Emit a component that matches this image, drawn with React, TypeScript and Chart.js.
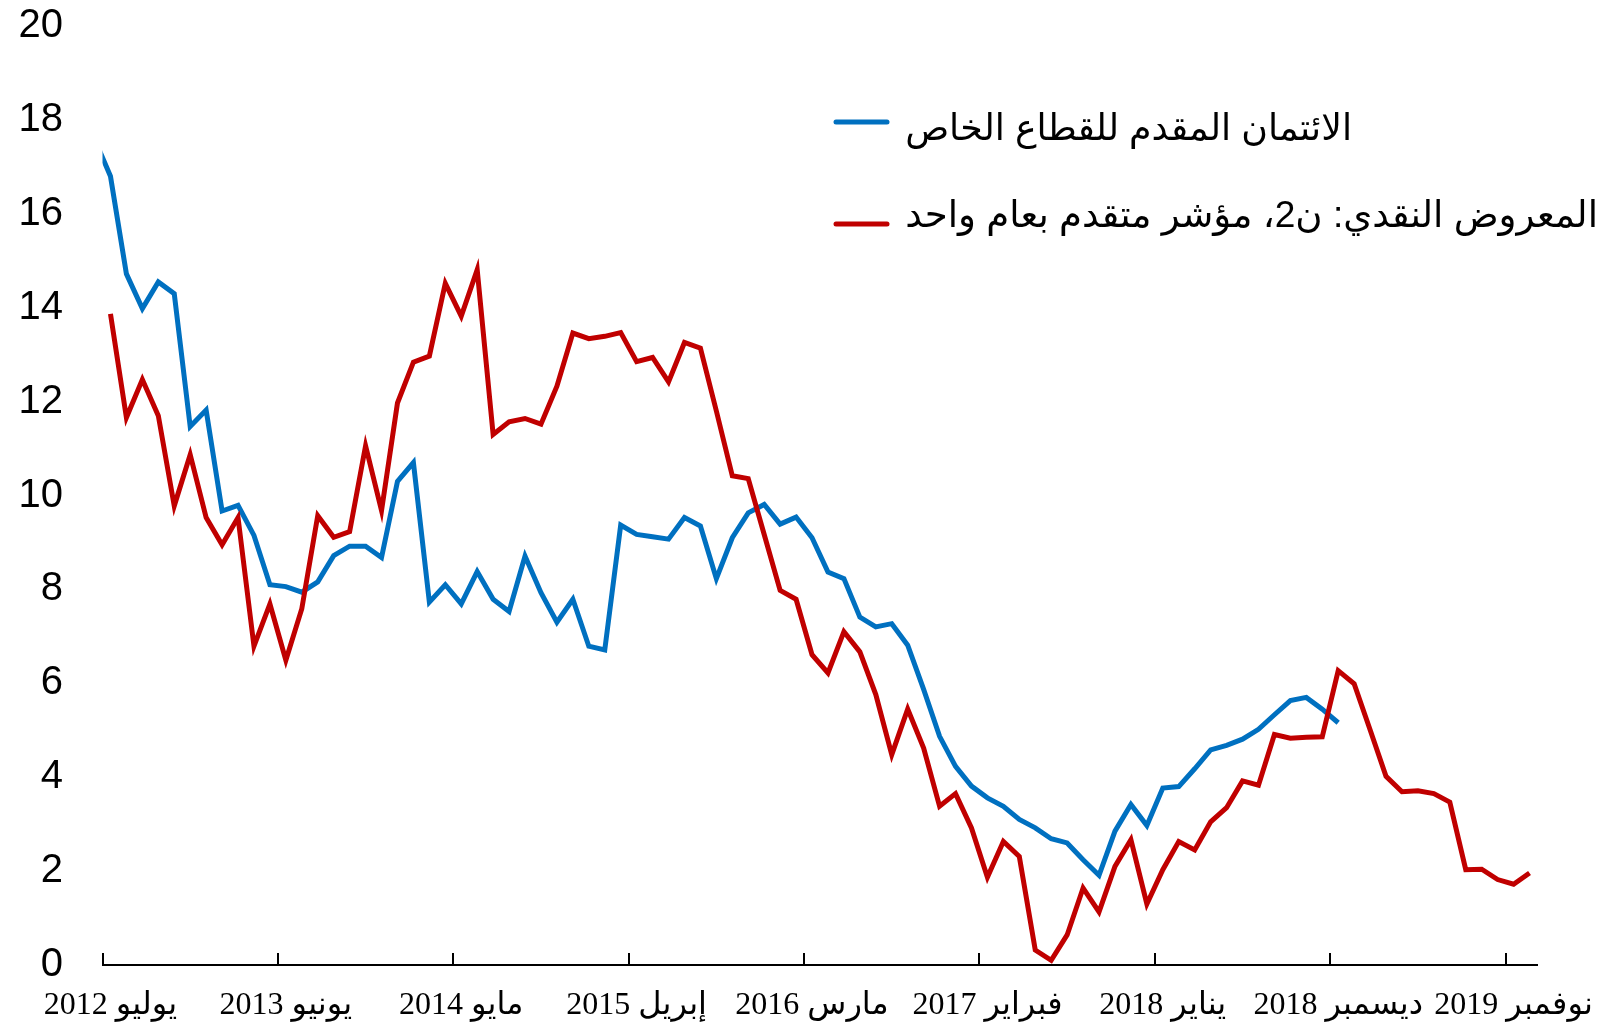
import React, { useEffect, useRef } from 'react';
import { Chart, registerables } from 'chart.js';

Chart.register(...registerables);

// Month index 0 = July 2012 (يوليو 2012), one step per month
const tickMonthIndex = [0, 11, 22, 33, 44, 55, 66, 77, 88];
const tickLabels = [
  'يوليو 2012',
  'يونيو 2013',
  'مايو 2014',
  'إبريل 2015',
  'مارس 2016',
  'فبراير 2017',
  'يناير 2018',
  'ديسمبر 2018',
  'نوفمبر 2019',
];
const yMin = 0;
const yMax = 20;
const yStep = 2;

const creditLabel = 'الائتمان المقدم للقطاع الخاص';
const m2Label = 'المعروض النقدي: ن2، مؤشر متقدم بعام واحد';

// Private-sector credit, starts June 2012 (index -1)
const creditStartIndex = -1;
const creditValues = [
  17.6, 16.8, 14.72, 13.98, 14.55, 14.3, 11.47, 11.82, 9.67, 9.79,
  9.15, 8.1, 8.06, 7.94, 8.16, 8.72, 8.92, 8.92, 8.68, 10.3,
  10.7, 7.73, 8.1, 7.69, 8.38, 7.79, 7.53, 8.71, 7.93, 7.3,
  7.79, 6.79, 6.71, 9.37, 9.17, 9.12, 9.07, 9.53, 9.35, 8.23,
  9.1, 9.63, 9.81, 9.39, 9.54, 9.1, 8.37, 8.23, 7.41, 7.2,
  7.27, 6.81, 5.87, 4.87, 4.23, 3.81, 3.56, 3.38, 3.1, 2.92,
  2.69, 2.6, 2.24, 1.91, 2.85, 3.42, 2.97, 3.77, 3.8, 4.18,
  4.58, 4.68, 4.81, 5.02, 5.33, 5.63, 5.7, 5.45, 5.16,
];

// Money supply M2, one year lead, starts July 2012 (index 0)
const m2StartIndex = 0;
const m2Values = [
  13.87, 11.66, 12.47, 11.7, 9.78, 10.87, 9.53, 8.95, 9.53, 6.79,
  7.69, 6.49, 7.59, 9.57, 9.11, 9.23, 11.06, 9.68, 11.97, 12.84,
  12.97, 14.52, 13.82, 14.81, 11.3, 11.57, 11.64, 11.52, 12.33, 13.46,
  13.34, 13.39, 13.47, 12.85, 12.94, 12.42, 13.26, 13.14, 11.8, 10.42,
  10.36, 9.17, 7.98, 7.79, 6.61, 6.22, 7.1, 6.67, 5.76, 4.48,
  5.45, 4.62, 3.38, 3.65, 2.92, 1.87, 2.63, 2.31, 0.32, 0.1,
  0.64, 1.64, 1.13, 2.1, 2.67, 1.3, 2.03, 2.63, 2.45, 3.05,
  3.35, 3.92, 3.83, 4.91, 4.83, 4.85, 4.86, 6.27, 5.99, 5.01,
  4.02, 3.69, 3.71, 3.65, 3.47, 2.03, 2.04, 1.82, 1.72, 1.96,
];

const BLUE = '#0070C0';
const RED = '#C00000';

const toPoints = (start: number, vals: number[]) =>
  vals.map((v, k) => ({ x: start + k, y: v }));

const tickMarksPlugin = {
  id: 'tickMarks',
  afterDraw(chart: any) {
    const { ctx, chartArea, scales } = chart;
    const x = scales.x;
    ctx.save();
    ctx.strokeStyle = '#000';
    ctx.lineWidth = 2;
    tickMonthIndex.forEach((i) => {
      const px = Math.round(x.getPixelForValue(i - 0.5));
      ctx.beginPath();
      ctx.moveTo(px, chartArea.bottom);
      ctx.lineTo(px, chartArea.bottom - 12);
      ctx.stroke();
    });
    ctx.restore();
  },
};

const legendPlugin = {
  id: 'customLegend',
  afterDraw(chart: any) {
    const { ctx } = chart;
    const items = [
      { label: creditLabel, color: BLUE, lineY: 122, baseY: 140, right: 1352 },
      { label: m2Label, color: RED, lineY: 224, baseY: 227, right: 1598 },
    ];
    ctx.save();
    items.forEach((it) => {
      ctx.strokeStyle = it.color;
      ctx.lineWidth = 5;
      ctx.lineCap = 'round';
      ctx.beginPath();
      ctx.moveTo(836, it.lineY);
      ctx.lineTo(887, it.lineY);
      ctx.stroke();

      const family = '"Liberation Sans", "DejaVu Sans", sans-serif';
      const target = it.right - 905;
      ctx.font = `36px ${family}`;
      ctx.direction = 'rtl';
      const w = ctx.measureText(it.label).width;
      const size = Math.min(40, (36 * target) / w);
      ctx.font = `${size}px ${family}`;
      ctx.fillStyle = '#000';
      ctx.textAlign = 'right';
      ctx.textBaseline = 'alphabetic';
      ctx.fillText(it.label, it.right, it.baseY);
    });
    ctx.restore();
  },
};

export default function App() {
  const canvasRef = useRef<HTMLCanvasElement | null>(null);

  useEffect(() => {
    const canvas = canvasRef.current;
    if (!canvas) return;
    const chart = new Chart(canvas, {
      type: 'line',
      data: {
        datasets: [
          {
            label: m2Label,
            data: toPoints(m2StartIndex, m2Values),
            borderColor: RED,
            backgroundColor: RED,
            borderWidth: 5,
            pointRadius: 0,
            tension: 0,
            fill: false,
          },
          {
            label: creditLabel,
            data: toPoints(creditStartIndex, creditValues),
            borderColor: BLUE,
            backgroundColor: BLUE,
            borderWidth: 5,
            pointRadius: 0,
            tension: 0,
            fill: false,
            clip: { left: 0, top: 5, right: 5, bottom: 5 },
          },
        ],
      },
      options: {
        responsive: false,
        animation: false,
        devicePixelRatio: 1,
        layout: { padding: { left: 0, top: 26, right: 69.5, bottom: 0 } },
        plugins: {
          legend: { display: false },
          tooltip: { enabled: false },
        },
        scales: {
          x: {
            type: 'linear',
            min: -0.5,
            max: 89.5,
            afterBuildTicks: (scale: any) => {
              scale.ticks = tickMonthIndex.map((v) => ({ value: v }));
            },
            afterFit: (scale: any) => {
              scale.height = 60;
              scale.paddingLeft = 0;
              scale.paddingRight = 0;
            },
            grid: { display: false, drawTicks: false },
            border: { display: true, color: '#000', width: 2 },
            ticks: {
              autoSkip: false,
              maxRotation: 0,
              minRotation: 0,
              padding: 21,
              color: '#000',
              font: { family: '"Liberation Serif", "DejaVu Sans", serif', size: 32 },
              callback: (_v: any, idx: number) => '\u202B' + tickLabels[idx] + '\u202C',
            },
          },
          y: {
            min: yMin,
            max: yMax,
            afterFit: (scale: any) => {
              scale.width = 102.5;
              scale.paddingTop = 0;
              scale.paddingBottom = 0;
            },
            grid: { display: false, drawTicks: false },
            border: { display: false },
            ticks: {
              stepSize: yStep,
              padding: 39.5,
              color: '#000',
              font: { family: '"Liberation Sans", Arial, sans-serif', size: 40 },
            },
          },
        },
      },
      plugins: [tickMarksPlugin, legendPlugin],
    });
    return () => chart.destroy();
  }, []);

  return (
    <div style={{ position: 'fixed', left: 0, top: 0, width: 1607, height: 1025, background: '#fff' }}>
      <canvas ref={canvasRef} width={1607} height={1025} style={{ width: 1607, height: 1025 }} />
    </div>
  );
}
